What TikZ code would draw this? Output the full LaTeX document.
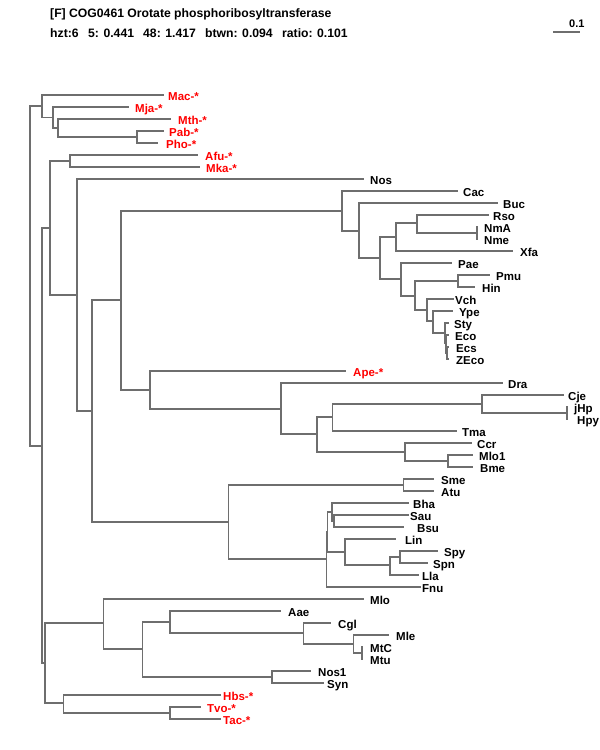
\documentclass[tikz,border=0pt]{standalone}
\usepackage{fontspec}
\setmainfont{Liberation Sans}
\definecolor{treegray}{RGB}{110,110,110}
\definecolor{labred}{RGB}{255,0,0}
\begin{document}
\begin{tikzpicture}[x=1pt,y=-1pt,
  br/.style={draw=treegray,line width=1.6pt,line cap=rect,line join=miter},
  lab/.style={anchor=base west,inner sep=0pt,font=\bfseries\fontsize{11.5}{12}\selectfont,text=black},
  rlab/.style={lab,text=labred},
  ttl/.style={anchor=base west,inner sep=0pt,font=\bfseries\fontsize{12.2}{13}\selectfont}]
\useasboundingbox[fill=white] (0,0) rectangle (600,750);
% title
\node[ttl] (t1) at (50,17) {[F] COG0461 Orotate phosphoribosyltransferase};
\node[ttl] (t2a) at (50,37) {hzt:6};
\node[ttl] (t2b) at (88,37) {5: 0.441};
\node[ttl] (t2c) at (143,37) {48: 1.417};
\node[ttl] (t2d) at (205,37) {btwn: 0.094};
\node[ttl] (t2e) at (282,37) {ratio: 0.101};
% scale bar
\coordinate (sb1) at (553.3,32);
\coordinate (sb2) at (580,32);
\draw[draw=treegray,line width=1.4pt] (sb1) -- (sb2);
\node[anchor=base west,inner sep=0pt,font=\bfseries\fontsize{11}{12}\selectfont] (sbl) at (569,27) {0.1};
% coordinates
\coordinate (root) at (30,275.5);
\coordinate (A) at (42,106);
\coordinate (Mac) at (163,95);
\coordinate (A1) at (53,117.5);
\coordinate (Mja) at (128,107);
\coordinate (A2) at (58,128);
\coordinate (Mth) at (170,119);
\coordinate (A3) at (137,137);
\coordinate (Pab) at (163,131);
\coordinate (Pho) at (157,143);
\coordinate (B) at (41.7,446);
\coordinate (C) at (50,228);
\coordinate (D) at (70,161);
\coordinate (Afu) at (197,155);
\coordinate (Mka) at (199,167);
\coordinate (E) at (77,295);
\coordinate (Nos) at (362.7,179);
\coordinate (F) at (91.7,411);
\coordinate (G) at (120.7,300);
\coordinate (P1) at (341.7,211);
\coordinate (Cac) at (456.7,191);
\coordinate (P2) at (359,231);
\coordinate (Buc) at (496.7,203);
\coordinate (P3) at (380,258);
\coordinate (P4) at (396,237);
\coordinate (P6) at (416.7,223);
\coordinate (Rso) at (488,215);
\coordinate (P7) at (476.7,233);
\coordinate (NmA) at (476.7,227);
\coordinate (Nme) at (476.7,239);
\coordinate (Xfa) at (511.7,251);
\coordinate (P5) at (400.7,279);
\coordinate (Pae) at (450.7,263);
\coordinate (P8) at (415,296);
\coordinate (P9) at (457.7,281);
\coordinate (Pmu) at (489,275);
\coordinate (Hin) at (474,287);
\coordinate (P10) at (426.7,310);
\coordinate (Vch) at (452.7,299);
\coordinate (P11) at (433,321);
\coordinate (Ype) at (451.7,311);
\coordinate (P12) at (445,333);
\coordinate (Sty) at (448,323);
\coordinate (P13) at (446,343);
\coordinate (Eco) at (448,335);
\coordinate (P14) at (447,353);
\coordinate (Ecs) at (448,347);
\coordinate (ZEco) at (448,359);
\coordinate (AP) at (150,390);
\coordinate (Ape) at (345,371);
\coordinate (R1) at (280.7,409);
\coordinate (Dra) at (501.7,383);
\coordinate (R2) at (316.7,434);
\coordinate (R3) at (332.3,417);
\coordinate (R5) at (481.7,404);
\coordinate (Cje) at (562.7,395);
\coordinate (R6) at (566.7,413);
\coordinate (jHp) at (566.7,407);
\coordinate (Hpy) at (566.7,419);
\coordinate (Tma) at (456,431);
\coordinate (R4) at (405,452);
\coordinate (Ccr) at (471,443);
\coordinate (R7) at (447.7,461);
\coordinate (Mlo1) at (472.3,455);
\coordinate (Bme) at (472,467);
\coordinate (S) at (228.3,522);
\coordinate (T) at (403.3,485);
\coordinate (Sme) at (433,479);
\coordinate (Atu) at (433,491);
\coordinate (U) at (326.5,559);
\coordinate (V) at (327.5,531.7);
\coordinate (W) at (331.7,511.7);
\coordinate (Bha) at (408.3,503);
\coordinate (W2) at (334,521);
\coordinate (Sau) at (407.7,515);
\coordinate (Bsu) at (403,527);
\coordinate (X) at (345,551.7);
\coordinate (Lin) at (395,539);
\coordinate (X2) at (390,565);
\coordinate (X3) at (400,557);
\coordinate (Spy) at (436.7,551);
\coordinate (Spn) at (426.7,563);
\coordinate (Lla) at (418,575);
\coordinate (Fnu) at (420,587);
\coordinate (H) at (45,663);
\coordinate (I) at (103.3,623);
\coordinate (Mlo) at (363.3,599);
\coordinate (J) at (142.3,649);
\coordinate (K) at (170,622);
\coordinate (Aae) at (280,611);
\coordinate (K2) at (303.3,633);
\coordinate (Cgl) at (330,623);
\coordinate (K3) at (353.3,644);
\coordinate (Mle) at (388,635);
\coordinate (K4) at (362,653);
\coordinate (MtC) at (362,647);
\coordinate (Mtu) at (362,659);
\coordinate (L) at (272,677);
\coordinate (Nos1) at (310,671);
\coordinate (Syn) at (323,683);
\coordinate (Y) at (63.3,703);
\coordinate (Hbs) at (220,695);
\coordinate (Z) at (170,713);
\coordinate (Tvo) at (200,707);
\coordinate (Tac) at (220,719);
% branches
\foreach \p/\c in {root/A,root/B,A/Mac,A/A1,A1/Mja,A1/A2,A2/Mth,A2/A3,A3/Pab,A3/Pho,
  B/C,B/H,C/D,C/E,D/Afu,D/Mka,E/Nos,E/F,F/G,F/S,G/P1,G/AP,
  P1/Cac,P1/P2,P2/Buc,P2/P3,P3/P4,P3/P5,P4/P6,P4/Xfa,P6/Rso,P6/P7,P7/NmA,P7/Nme,
  P5/Pae,P5/P8,P8/P9,P8/P10,P9/Pmu,P9/Hin,P10/Vch,P10/P11,P11/Ype,P11/P12,
  P12/Sty,P12/P13,P13/Eco,P13/P14,P14/Ecs,P14/ZEco,
  AP/Ape,AP/R1,R1/Dra,R1/R2,R2/R3,R2/R4,R3/R5,R3/Tma,R5/Cje,R5/R6,R6/jHp,R6/Hpy,
  R4/Ccr,R4/R7,R7/Mlo1,R7/Bme,
  S/T,S/U,T/Sme,T/Atu,U/V,U/Fnu,V/W,V/X,W/Bha,W/W2,W2/Sau,W2/Bsu,
  X/Lin,X/X2,X2/X3,X2/Lla,X3/Spy,X3/Spn,
  H/I,H/Y,I/Mlo,I/J,J/K,J/L,K/Aae,K/K2,K2/Cgl,K2/K3,K3/Mle,K3/K4,K4/MtC,K4/Mtu,
  L/Nos1,L/Syn,Y/Hbs,Y/Z,Z/Tvo,Z/Tac}
  {\draw[br] (\p) |- (\c);}
% labels
\node[rlab] (tMac) at (168,100) {Mac-*};
\node[rlab] (tMja) at (135,112) {Mja-*};
\node[rlab] (tMth) at (178,124) {Mth-*};
\node[rlab] (tPab) at (169,136) {Pab-*};
\node[rlab] (tPho) at (166,148) {Pho-*};
\node[rlab] (tAfu) at (205,160) {Afu-*};
\node[rlab] (tMka) at (206,172) {Mka-*};
\node[lab] (tNos) at (370,184) {Nos};
\node[lab] (tCac) at (463,196) {Cac};
\node[lab] (tBuc) at (503,208) {Buc};
\node[lab] (tRso) at (493,220) {Rso};
\node[lab] (tNmA) at (484,232) {NmA};
\node[lab] (tNme) at (484,244) {Nme};
\node[lab] (tXfa) at (520,256) {Xfa};
\node[lab] (tPae) at (458,268) {Pae};
\node[lab] (tPmu) at (496,280) {Pmu};
\node[lab] (tHin) at (482,292) {Hin};
\node[lab] (tVch) at (455,304) {Vch};
\node[lab] (tYpe) at (459,316) {Ype};
\node[lab] (tSty) at (454,328) {Sty};
\node[lab] (tEco) at (455,340) {Eco};
\node[lab] (tEcs) at (456,352) {Ecs};
\node[lab] (tZEco) at (456,364) {ZEco};
\node[rlab] (tApe) at (353,376) {Ape-*};
\node[lab] (tDra) at (508,388) {Dra};
\node[lab] (tCje) at (568,400) {Cje};
\node[lab] (tjHp) at (574,412) {jHp};
\node[lab] (tHpy) at (577,424) {Hpy};
\node[lab] (tTma) at (462,436) {Tma};
\node[lab] (tCcr) at (477,448) {Ccr};
\node[lab] (tMlo1) at (479,460) {Mlo1};
\node[lab] (tBme) at (480,472) {Bme};
\node[lab] (tSme) at (441,484) {Sme};
\node[lab] (tAtu) at (441,496) {Atu};
\node[lab] (tBha) at (413,508) {Bha};
\node[lab] (tSau) at (410,520) {Sau};
\node[lab] (tBsu) at (417,532) {Bsu};
\node[lab] (tLin) at (405,544) {Lin};
\node[lab] (tSpy) at (444,556) {Spy};
\node[lab] (tSpn) at (433,568) {Spn};
\node[lab] (tLla) at (422,580) {Lla};
\node[lab] (tFnu) at (422,592) {Fnu};
\node[lab] (tMlo) at (370,604) {Mlo};
\node[lab] (tAae) at (288,616) {Aae};
\node[lab] (tCgl) at (338,628) {Cgl};
\node[lab] (tMle) at (396,640) {Mle};
\node[lab] (tMtC) at (370,652) {MtC};
\node[lab] (tMtu) at (370,664) {Mtu};
\node[lab] (tNos1) at (318,676) {Nos1};
\node[lab] (tSyn) at (327,688) {Syn};
\node[rlab] (tHbs) at (223,700) {Hbs-*};
\node[rlab] (tTvo) at (207,712) {Tvo-*};
\node[rlab] (tTac) at (223,724) {Tac-*};
\end{tikzpicture}
\end{document}
